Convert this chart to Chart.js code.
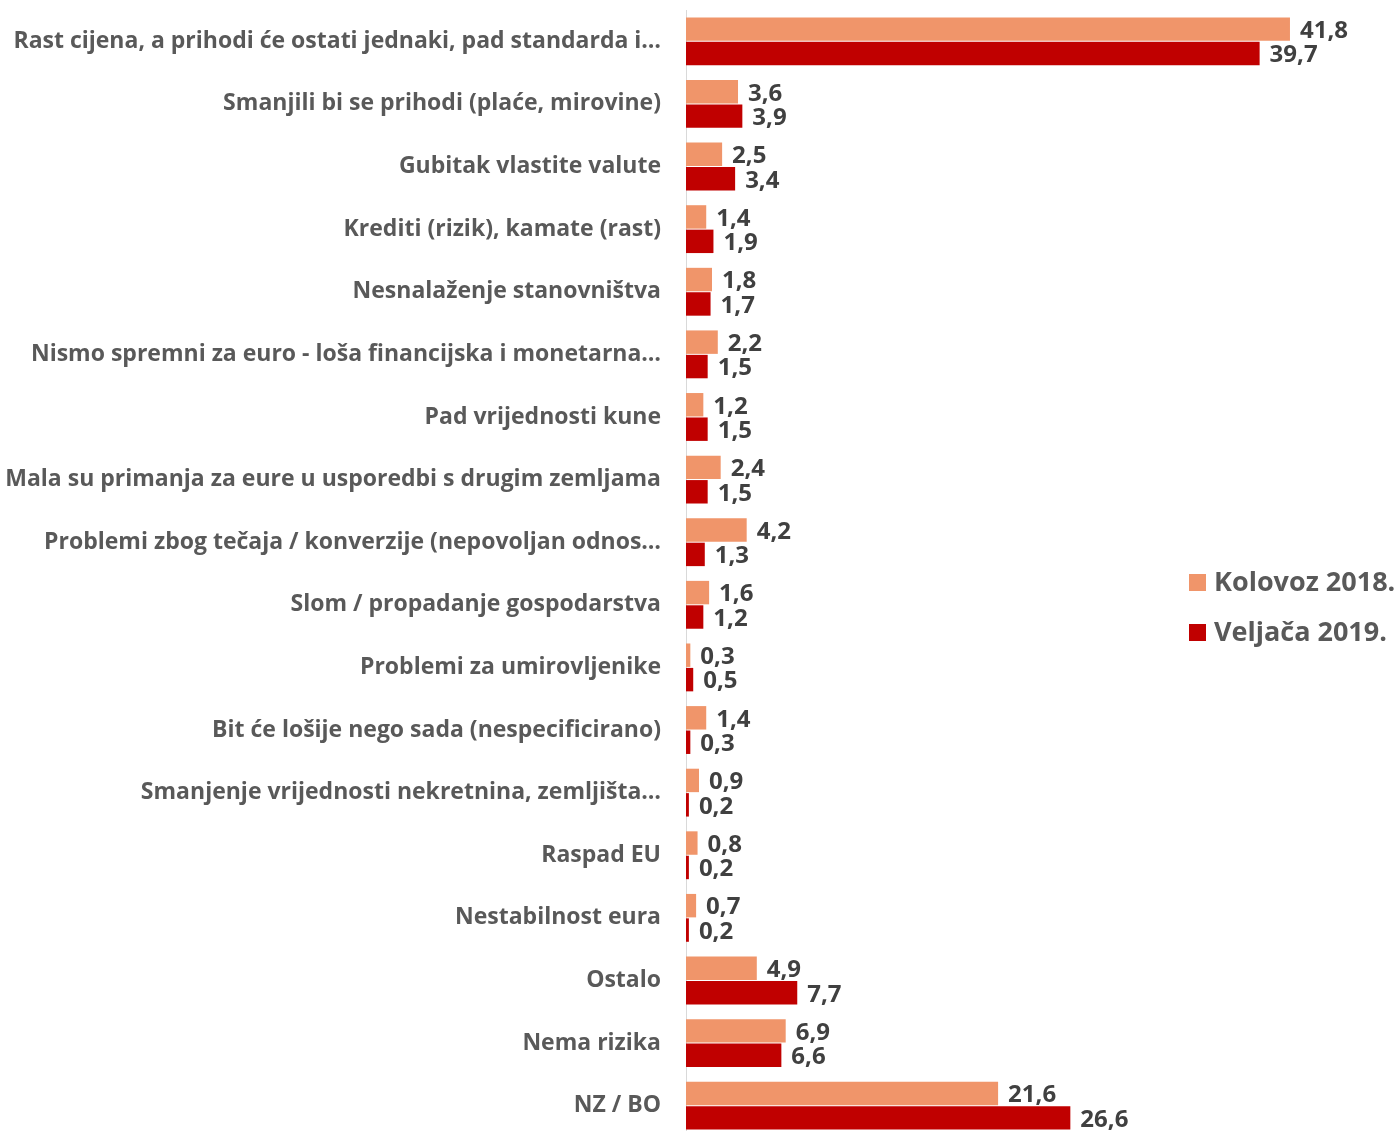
<!DOCTYPE html>
<html lang="hr">
<head>
  <meta charset="UTF-8">
  <title>Rizici uvođenja eura</title>
  <style>
    html, body {
      margin: 0;
      padding: 0;
      background: #ffffff;
      overflow: hidden;
    }
    #wrap {
      position: relative;
      width: 1398px;
      height: 1140px;
    }
  </style>
</head>
<body>
  <div id="wrap"><canvas id="riskChart"></canvas></div>

  <script src="https://cdn.jsdelivr.net/npm/chart.js"></script>
  <script>
    const categories = [
      'Rast cijena, a prihodi će ostati jednaki, pad standarda i…',
      'Smanjili bi se prihodi (plaće, mirovine)',
      'Gubitak vlastite valute',
      'Krediti (rizik), kamate (rast)',
      'Nesnalaženje stanovništva',
      'Nismo spremni za euro - loša financijska i monetarna…',
      'Pad vrijednosti kune',
      'Mala su primanja za eure u usporedbi s drugim zemljama',
      'Problemi zbog tečaja / konverzije (nepovoljan odnos…',
      'Slom / propadanje gospodarstva',
      'Problemi za umirovljenike',
      'Bit će lošije nego sada (nespecificirano)',
      'Smanjenje vrijednosti nekretnina, zemljišta…',
      'Raspad EU',
      'Nestabilnost eura',
      'Ostalo',
      'Nema rizika',
      'NZ / BO'
    ];
    const kolovoz2018 = [41.8, 3.6, 2.5, 1.4, 1.8, 2.2, 1.2, 2.4, 4.2, 1.6, 0.3, 1.4, 0.9, 0.8, 0.7, 4.9, 6.9, 21.6];
    const veljaca2019 = [39.7, 3.9, 3.4, 1.9, 1.7, 1.5, 1.5, 1.5, 1.3, 1.2, 0.5, 0.3, 0.2, 0.2, 0.2, 7.7, 6.6, 26.6];
    const seriesNames = ['Kolovoz 2018.', 'Veljača 2019.'];

    const FONT = '"Open Sans", Lato, sans-serif';

    // value labels at the end of each bar
    const barValues = {
      id: 'barValues',
      afterDatasetsDraw(chart) {
        const ctx = chart.ctx;
        ctx.save();
        ctx.font = 'bold 24px ' + FONT;
        ctx.fillStyle = '#404040';
        ctx.textAlign = 'left';
        ctx.textBaseline = 'middle';
        chart.data.datasets.forEach((ds, i) => {
          chart.getDatasetMeta(i).data.forEach((bar, j) => {
            const txt = ds.data[j].toFixed(1).replace('.', ',');
            ctx.fillText(txt, bar.x + 10, bar.y + 2);
          });
        });
        ctx.restore();
      }
    };

    // legend drawn on the right, over the plot area
    const sideLegend = {
      id: 'sideLegend',
      afterDraw(chart) {
        const ctx = chart.ctx;
        ctx.save();
        ctx.font = 'bold 27px ' + FONT;
        ctx.textBaseline = 'middle';
        chart.data.datasets.forEach((ds, i) => {
          const y = 582 + i * 50;
          ctx.fillStyle = ds.backgroundColor;
          ctx.fillRect(1189, y - 8, 17, 17);
          ctx.fillStyle = '#595959';
          ctx.fillText(ds.label, 1214, y + 1);
        });
        ctx.restore();
      }
    };

    const ctx = document.getElementById('riskChart').getContext('2d');
    new Chart(ctx, {
      type: 'bar',
      data: {
        labels: categories,
        datasets: [{
          label: seriesNames[0],
          data: kolovoz2018,
          backgroundColor: '#F0956A',
          borderWidth: 0,
          categoryPercentage: 0.78,
          barPercentage: 0.96
        }, {
          label: seriesNames[1],
          data: veljaca2019,
          backgroundColor: '#C00000',
          borderWidth: 0,
          categoryPercentage: 0.78,
          barPercentage: 0.96
        }]
      },
      options: {
        indexAxis: 'y',
        responsive: true,
        maintainAspectRatio: false,
        animation: false,
        layout: { padding: { top: 10, bottom: 3, right: 4, left: 0 } },
        plugins: {
          legend: { display: false },
          tooltip: { enabled: false }
        },
        scales: {
          x: {
            min: 0,
            max: 49,
            display: false
          },
          y: {
            afterFit(scale) {
              scale.width = 686;
              scale.paddingTop = 0;
              scale.paddingBottom = 0;
            },
            grid: { display: false, drawTicks: false },
            border: { display: true, color: '#d9d9d9', width: 1 },
            ticks: {
              padding: 25,
              color: '#595959',
              font: { family: FONT, size: 23, weight: 'bold' },
              autoSkip: false
            }
          }
        }
      },
      plugins: [barValues, sideLegend]
    });
  </script>
</body>
</html>
